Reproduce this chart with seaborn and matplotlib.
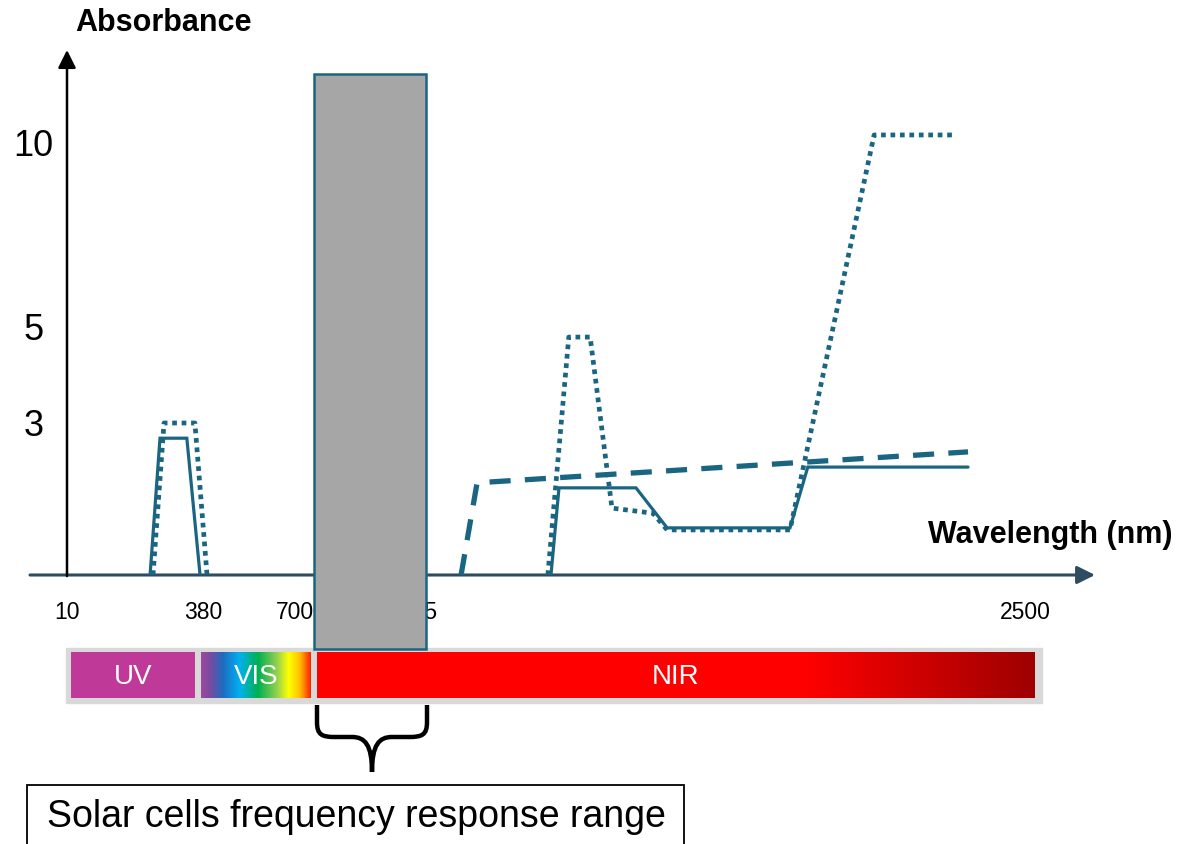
import numpy as np
import pandas as pd
import matplotlib
matplotlib.use("Agg")
import matplotlib.pyplot as plt
from matplotlib.patches import Rectangle, PathPatch
from matplotlib.path import Path
from matplotlib.colors import LinearSegmentedColormap
import seaborn as sns

# ---------------- data ----------------
wl_ticks = [10, 380, 700, 1125, 2500]
wl_tick_labels = ["10", "380", "700", "1125", "2500"]
abs_ticks = [3, 5, 10]
abs_tick_labels = ["3", "5", "10"]

solid_uv_wl = [236, 263, 336, 372]
solid_uv_abs = [0, 2.70, 2.70, 0]
solid_nir_wl = [1435, 1453, 1626, 1696, 1972, 2012, 2372]
solid_nir_abs = [0, 1.72, 1.72, 0.93, 0.93, 2.13, 2.13]

dotted_uv_wl = [244, 274, 358, 394]
dotted_uv_abs = [0, 3.0, 3.0, 0]
dotted_nir_wl = [1428, 1475, 1523, 1572, 1664, 1696, 1972, 2161, 2343]
dotted_nir_abs = [0, 4.79, 4.79, 1.32, 1.22, 0.89, 0.89, 10.19, 10.19]

dashed_wl = [1233, 1269, 2372]
dashed_abs = [0, 1.82, 2.43]

solar_band = [770, 1155]
band_names = ["UV", "VIS", "NIR"]

# ---------------- style ----------------
sns.set_theme(style="white")
plt.rcParams["font.family"] = ["Liberation Sans", "DejaVu Sans"]

LINE = "#1a6682"
AXIS_H = "#2f4b5f"

W, H = 1192, 844
fig = plt.figure(figsize=(W / 100, H / 100), dpi=100)

# Layout in pixels (origin top-left)
AX_LEFT, AX_RIGHT = 67, 1095
BASE_Y, TOP_Y = 575, 50

# Schematic (piecewise-linear) axes: tick values -> pixel offsets
X_ANCHOR_PX = [67, 203, 295, 413, 1025]
Y_ANCHOR_PX = [0, 152, 248, 433]  # height above the baseline for 0, 3, 5, 10


def piecewise(xp, fp):
    xp = np.asarray(xp, float)
    fp = np.asarray(fp, float)

    def f(v):
        v = np.asarray(v, float)
        out = np.interp(v, xp, fp)
        lo_slope = (fp[1] - fp[0]) / (xp[1] - xp[0])
        hi_slope = (fp[-1] - fp[-2]) / (xp[-1] - xp[-2])
        out = np.where(v < xp[0], fp[0] + (v - xp[0]) * lo_slope, out)
        out = np.where(v > xp[-1], fp[-1] + (v - xp[-1]) * hi_slope, out)
        return out
    return f


x_fwd = piecewise(wl_ticks, X_ANCHOR_PX)
x_inv = piecewise(X_ANCHOR_PX, wl_ticks)
y_vals = [0] + abs_ticks
y_fwd = piecewise(y_vals, Y_ANCHOR_PX)
y_inv = piecewise(Y_ANCHOR_PX, y_vals)

# ---------- decoration layer (pixel coordinates) ----------
deco = fig.add_axes([0, 0, 1, 1])
deco.set_axis_off()

# axes arrows
deco.annotate("", xy=(AX_RIGHT, BASE_Y), xytext=(30, BASE_Y),
              arrowprops=dict(arrowstyle="-|>,head_length=0.9,head_width=0.45",
                              color=AXIS_H, lw=2.2, shrinkA=0, shrinkB=0,
                              mutation_scale=12))
deco.annotate("", xy=(AX_LEFT, TOP_Y), xytext=(AX_LEFT, BASE_Y + 1),
              arrowprops=dict(arrowstyle="-|>,head_length=0.9,head_width=0.45",
                              color="black", lw=1.8, shrinkA=0, shrinkB=0,
                              mutation_scale=12))

deco.text(75, 23, "Absorbance", fontsize=22, fontweight="bold",
          ha="left", va="center", color="black")
deco.text(1172, 535, "Wavelength (nm)", fontsize=22, fontweight="bold",
          ha="right", va="center", color="black")

# spectrum strip
deco.add_patch(Rectangle((66, 648), 976, 55, facecolor="#d9d9d9",
                         edgecolor="#d9d9d9", lw=1, zorder=1))
deco.add_patch(Rectangle((71, 652), 124, 46, facecolor="#bf3a98", lw=0,
                         zorder=2))

vis_cmap = LinearSegmentedColormap.from_list(
    "vis", [(0.0, "#9a4a9e"), (0.08, "#7a4aa0"), (0.2, "#1e6cc0"),
            (0.35, "#00b0f0"), (0.52, "#00b050"), (0.69, "#92d050"),
            (0.80, "#ffff00"), (0.90, "#ffc000"), (1.0, "#ff2000")])
nir_cmap = LinearSegmentedColormap.from_list(
    "nir", [(0.0, "#ff0000"), (0.68, "#ff0000"), (1.0, "#9e0000")])
grad = np.linspace(0, 1, 256)[None, :]
deco.imshow(grad, cmap=vis_cmap, extent=(201, 311, 698, 652),
            aspect="auto", interpolation="bilinear", zorder=2)
deco.imshow(grad, cmap=nir_cmap, extent=(317, 1035, 698, 652),
            aspect="auto", interpolation="bilinear", zorder=2)

for name, cx in zip(band_names, [133, 256, 676]):
    deco.text(cx, 677, name, fontsize=20, color="white",
              ha="center", va="center", zorder=3)

# curly brace under the solar band
bx0, bx1, by0, by1 = 317, 427, 705, 772
bm = (bx0 + bx1) / 2
verts = [(bx0, by0), (bx0, by0 + 17),
         (bx0, by0 + 30), (bx0 + 5, by0 + 32), (bx0 + 18, by0 + 32),
         (bm - 20, by0 + 32),
         (bm - 7, by0 + 32), (bm, by0 + 40), (bm, by1),
         (bm, by0 + 40), (bm + 7, by0 + 32), (bm + 20, by0 + 32),
         (bx1 - 18, by0 + 32),
         (bx1 - 5, by0 + 32), (bx1, by0 + 30), (bx1, by0 + 17),
         (bx1, by0)]
codes = [Path.MOVETO, Path.LINETO,
         Path.CURVE4, Path.CURVE4, Path.CURVE4,
         Path.LINETO,
         Path.CURVE4, Path.CURVE4, Path.CURVE4,
         Path.CURVE4, Path.CURVE4, Path.CURVE4,
         Path.LINETO,
         Path.CURVE4, Path.CURVE4, Path.CURVE4,
         Path.LINETO]
deco.add_patch(PathPatch(Path(verts, codes), facecolor="none",
                         edgecolor="black", lw=3.2, capstyle="butt"))

deco.add_patch(Rectangle((27, 785), 657, 80, facecolor="white",
                         edgecolor="black", lw=1.3))
deco.text(356, 817, "Solar cells frequency response range", fontsize=27,
          ha="center", va="center", color="black")

deco.set_xlim(0, W)
deco.set_ylim(H, 0)

# ---------- data layer ----------
ax = fig.add_axes([AX_LEFT / W, (H - BASE_Y) / H,
                   (AX_RIGHT - AX_LEFT) / W, (BASE_Y - TOP_Y) / H])
ax.patch.set_alpha(0)
ax.set_xscale("function", functions=(x_fwd, x_inv))
ax.set_yscale("function", functions=(y_fwd, y_inv))
ax.set_xlim(wl_ticks[0], float(x_inv(AX_RIGHT)))
ax.set_ylim(0, float(y_inv(BASE_Y - TOP_Y)))


def frame(wl, ab, seg):
    return pd.DataFrame({"wavelength": wl, "absorbance": ab, "segment": seg})


solid_df = pd.concat([frame(solid_uv_wl, solid_uv_abs, "uv"),
                      frame(solid_nir_wl, solid_nir_abs, "nir")])
dotted_df = pd.concat([frame(dotted_uv_wl, dotted_uv_abs, "uv"),
                       frame(dotted_nir_wl, dotted_nir_abs, "nir")])
dashed_df = frame(dashed_wl, dashed_abs, "nir")

sns.lineplot(data=solid_df, x="wavelength", y="absorbance", units="segment",
             estimator=None, sort=False, color=LINE, lw=2.3, ax=ax,
             legend=False, solid_joinstyle="miter")
sns.lineplot(data=dotted_df, x="wavelength", y="absorbance", units="segment",
             estimator=None, sort=False, color=LINE, lw=3.4, ax=ax,
             legend=False, linestyle=(0, (1.0, 1.0)), dash_capstyle="butt")
sns.lineplot(data=dashed_df, x="wavelength", y="absorbance", units="segment",
             estimator=None, sort=False, color=LINE, lw=3.8, ax=ax,
             legend=False, linestyle=(0, (4.0, 2.7)), dash_capstyle="butt")

# solar cell response band
band_lo = -(649 - BASE_Y) / (BASE_Y - TOP_Y)
band_hi = (BASE_Y - 74) / (BASE_Y - TOP_Y)
span = ax.axvspan(solar_band[0], solar_band[1], ymin=band_lo, ymax=band_hi,
                  facecolor="#a6a6a6", edgecolor=LINE, lw=1.8, zorder=10)
span.set_clip_on(False)

ax.set_xticks(wl_ticks)
ax.set_xticklabels(wl_tick_labels, fontsize=16.5)
ax.set_yticks(abs_ticks)
ax.set_yticklabels(abs_tick_labels, fontsize=26)
ax.tick_params(axis="both", labelcolor="black")
ax.tick_params(axis="x", length=0, pad=19)
ax.tick_params(axis="y", length=0, pad=24)
for lbl in ax.get_yticklabels():
    lbl.set_ha("center")
ax.set_xlabel("")
ax.set_ylabel("")
ax.minorticks_off()
for s in ax.spines.values():
    s.set_visible(False)

fig.savefig("out.png", dpi=100)
